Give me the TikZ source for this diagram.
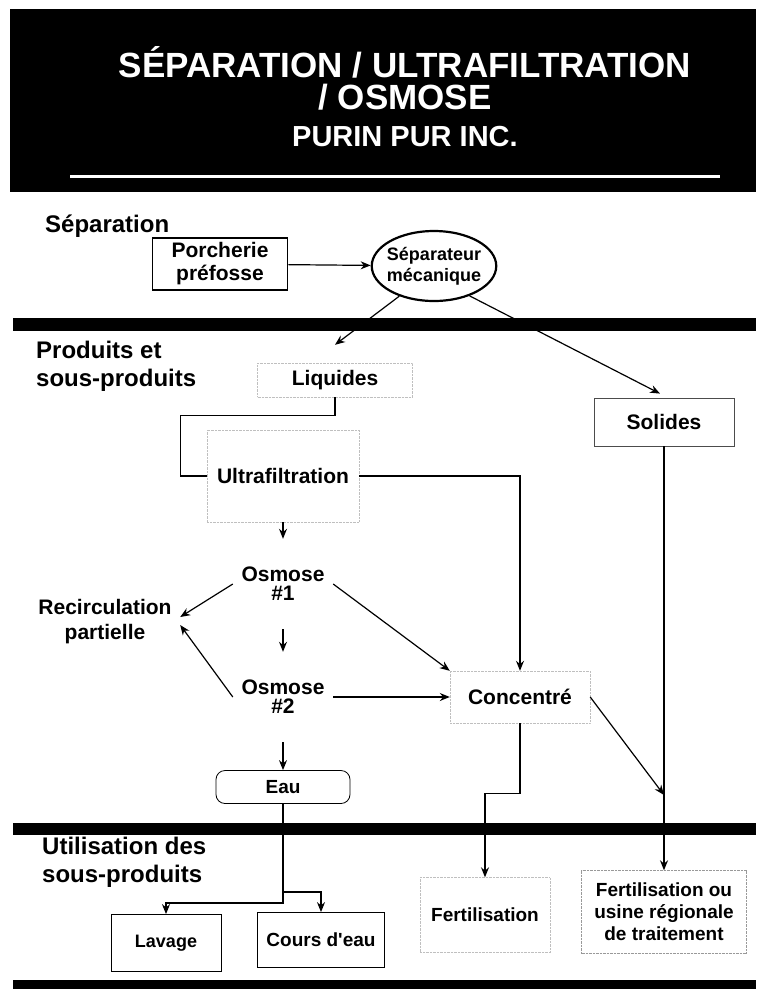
\documentclass[tikz,border=0pt]{standalone}
\usepackage{fontspec}
\setmainfont{Liberation Sans}
\usetikzlibrary{positioning, arrows.meta, shapes.geometric}

\tikzset{
  sect/.style={font=\fontsize{24}{28}\selectfont\bfseries, anchor=west, align=left, inner sep=0pt},
  txt/.style={font=\fontsize{21}{23}\selectfont\bfseries, align=center},
  faint/.style={txt, draw=black!25, densely dotted},
  plainbox/.style={txt, draw, line width=0.8pt},
  conn/.style={line width=1.2pt},
  arr/.style={conn, -{Stealth[length=10pt, width=8pt]}},
  band/.style={fill=black}
}

\begin{document}
\begin{tikzpicture}[x=1pt, y=-1pt]
\useasboundingbox (0,0) rectangle (756,989);

% header
\fill[band] (10,9) rectangle (756,192);
\node[font=\fontsize{35}{36}\selectfont\bfseries, text=white, align=center] (title) at (405,78)
  {SÉPARATION / ULTRAFILTRATION\\[-4pt]/ OSMOSE};
\node[font=\fontsize{29}{30}\selectfont\bfseries, text=white] (firm) at (405,137) {PURIN PUR INC.};
\draw[white, line width=3pt] (70,176) -- (720,176);

% section bands
\fill[band] (13,318) rectangle (756,331);
\fill[band] (13,823) rectangle (756,835);
\fill[band] (13,980) rectangle (756,989);

% section labels
\node[sect] (lsep) at (45,226) {Séparation};
\node[sect] (lprod) at (36,366) {Produits et\\sous-produits};
\node[sect] (lutil) at (42,862) {Utilisation des\\sous-produits};

% separation
\node[txt, draw, line width=1.8pt, minimum width=135, minimum height=52] (porch) at (220,264) {Porcherie\\préfosse};
\node[txt, ellipse, draw, line width=2.2pt, inner sep=-3pt, minimum width=118, minimum height=70,
  font=\fontsize{18}{21}\selectfont\bfseries] (sep) at (434,266) {Séparateur\\mécanique};

% products
\node[faint, minimum width=155, minimum height=34] (liq) at (335,380) {Liquides};
\node[plainbox, draw=black!70, minimum width=140, minimum height=48] (sol) at (664,422) {Solides};
\node[faint, minimum width=152, minimum height=92] (ultra) at (283,476) {Ultrafiltration};
\node[txt, font=\fontsize{21}{19}\selectfont\bfseries, minimum width=100, minimum height=90] (osm1) at (283,584) {Osmose\\\#1};
\node[txt, font=\fontsize{21}{19}\selectfont\bfseries, minimum width=100, minimum height=90] (osm2) at (283,697) {Osmose\\\#2};
\node[txt, font=\fontsize{21}{25}\selectfont\bfseries, minimum width=150, minimum height=50] (rec) at (105,622) {Recirculation\\partielle};
\node[faint, minimum width=140, minimum height=52] (conc) at (520,697) {Concentré};
\node[plainbox, rounded corners=9pt, minimum width=134, minimum height=33, font=\fontsize{19}{20}\selectfont\bfseries] (eau) at (283,787) {Eau};

% uses
\node[plainbox, minimum width=110, minimum height=57, font=\fontsize{18}{20}\selectfont\bfseries] (lav) at (166,943) {Lavage};
\node[plainbox, minimum width=127, minimum height=55, font=\fontsize{19}{20}\selectfont\bfseries] (cours) at (321,940) {Cours d\textquotesingle eau};
\node[faint, minimum width=130, minimum height=75, font=\fontsize{19}{20}\selectfont\bfseries] (fert) at (485,915) {Fertilisation};
\node[faint, draw=black!40, minimum width=165, minimum height=83, font=\fontsize{19}{22}\selectfont\bfseries] (fert2) at (664,912)
  {Fertilisation ou\\usine régionale\\de traitement};

% connectors
\coordinate (join) at (664,795);
\draw[arr] (porch) -- (sep);
\draw[arr] (sep.221) -- ([yshift=18pt]liq.north);
\draw[arr] (sep.320) -- ([xshift=-4pt, yshift=4pt]sol.north);
\draw[conn] (liq.south) -- ++(0,18) -| ([xshift=-26pt]ultra.west) -- (ultra.west);
\draw[arr] (ultra.east) -| (conc.north);
\draw[arr] (ultra.south) -- (osm1.north);
\draw[arr] (osm1.west) -- ([yshift=5pt]rec.east);
\draw[arr] (osm2.west) -- ([yshift=-3pt]rec.east);
\draw[arr] (osm1.south) -- (osm2.north);
\draw[arr] (osm1.east) -- (conc.north west);
\draw[arr] (osm2.east) -- (conc.west);
\draw[arr] (osm2.south) -- (eau.north);
\draw[arr] (conc.south) -- ++(0,70) -| (fert.north);
\draw[arr] (conc.east) -- (join);
\draw[arr] (sol.south) -- (fert2.north);
\draw[arr] (eau.south) -- ++(0,99) -| (lav.north);
\draw[arr] (eau.south) -- ++(0,88) -| (cours.north);
\end{tikzpicture}
\end{document}
